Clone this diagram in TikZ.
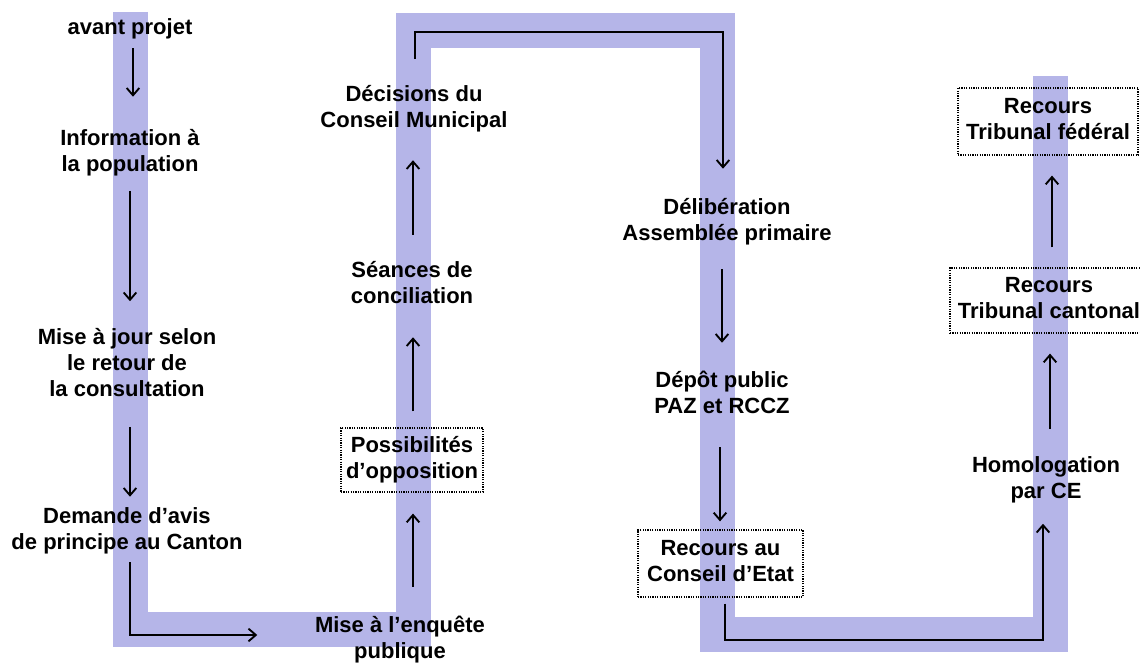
\documentclass[tikz,border=0pt]{standalone}
\usepackage{fontspec}
\setmainfont{Liberation Sans}
\usetikzlibrary{arrows.meta,calc}
\definecolor{bandcol}{RGB}{181,181,232}
\newcommand{\ls}{\strut}
\tikzset{
  lbl/.style={inner sep=0pt, align=center, font=\bfseries\fontsize{16.5}{19.5}\selectfont},
  dbox/.style={lbl, draw, line width=0.9pt, dash pattern=on 0.9pt off 0.9pt},
  arr/.style={line width=1.4pt, -{Straight Barb[length=5.5pt,width=9.5pt]}},
  bandline/.style={draw=bandcol, line width=26.25pt, line join=miter, line cap=butt}
}
\begin{document}
\begin{tikzpicture}[x=0.75pt,y=-0.75pt]
\useasboundingbox (0,0) rectangle (1140,666);
\clip (0,0) rectangle (1140,666);
% band
\draw[bandline] (130,12) -- (130,629.5) -- (413.5,629.5) -- (413.5,31) -- (717.5,31)
  -- (717.5,634.5) -- (1050,634.5) -- (1050,76);
% column coordinates
\coordinate (c1) at (130,0);
\coordinate (c2) at (413,0);
\coordinate (c3) at (722,0);
\coordinate (c4) at (1050,0);
% column 1
\node[lbl] (avant) at (130,29.5) {\ls avant projet};
\node[lbl] (info) at (130,153) {\ls Information à\\\ls la population};
\node[lbl] (maj) at (127,365) {\ls Mise à jour selon\\\ls le retour de\\\ls la consultation};
\node[lbl] (dem) at (127,531.5) {\ls Demande d’avis\\\ls de principe au Canton};
% column 2
\node[lbl] (enq) at (400,640.5) {\ls Mise à l’enquête\\\ls publique};
\node[dbox, minimum width=106.5pt, minimum height=48pt] (poss) at (412,460) {\ls Possibilités\\\ls d’opposition};
\node[lbl] (seance) at (412,285.5) {\ls Séances de\\\ls conciliation};
\node[lbl] (dec) at (414,109) {\ls Décisions du\\\ls Conseil Municipal};
% column 3
\node[lbl] (delib) at (727,222.5) {\ls Délibération\\\ls Assemblée primaire};
\node[lbl] (depot) at (722,395.5) {\ls Dépôt public\\\ls PAZ et RCCZ};
\node[dbox, minimum width=123.75pt, minimum height=50.25pt] (rce) at (720.5,563.5) {\ls Recours au\\\ls Conseil d’Etat};
% column 4
\node[lbl] (homol) at (1046,480) {\ls Homologation\\\ls par CE};
\node[dbox, minimum width=148.5pt, minimum height=48.75pt] (rtc) at (1049,300.5) {\ls Recours\\\ls Tribunal cantonal};
\node[dbox, minimum width=135pt, minimum height=50.25pt] (rtf) at (1048,121.5) {\ls Recours\\\ls Tribunal fédéral};
% connectors column 1
\draw[arr] ($(avant.south -| c1)+(3,5.5)$) -- ($(info.north -| c1)+(3,-30)$);
\draw[arr] ($(info.south -| c1)+(0,11.5)$) -- ($(maj.north -| c1)+(0,-24.5)$);
\draw[arr] ($(maj.south -| c1)+(0,22.5)$) -- ($(dem.north -| c1)+(0,-8.5)$);
\draw[arr] ($(dem.south -| c1)+(0,4.5)$) |- ($(enq.west)+(-57.5,-5.5)$);
% connectors column 2
\draw[arr] ($(enq.north -| c2)+(0,-27.5)$) -- ($(poss.south -| c2)+(0,21)$);
\draw[arr] ($(poss.north -| c2)+(0,-16)$) -- ($(seance.south -| c2)+(0,25.5)$);
\draw[arr] ($(seance.north -| c2)+(0,-24.5)$) -- ($(dec.north -| c2)+(0,77.5)$);
\draw[arr] ($(dec.north -| c2)+(2,-23.5)$) -- ++(0,-27) -| ($(delib.north -| c3)+(1,-27.5)$);
% connectors column 3
\draw[arr] ($(delib.south -| c3)+(0,20.5)$) -- ($(depot.north -| c3)+(0,-26.5)$);
\draw[arr] ($(depot.south -| c3)+(-2,25.5)$) -- ($(rce.north -| c3)+(-2,-8)$);
\draw[arr] ($(rce.south -| c3)+(3,6)$) -- ++(0,36) -| ($(homol.south)+(-3,17.5)$);
% connectors column 4
\draw[arr] ($(homol.north -| c4)+(0,-24.5)$) -- ($(rtc.south -| c4)+(0,20)$);
\draw[arr] ($(rtc.north -| c4)+(2,-20)$) -- ($(rtf.south -| c4)+(2,20)$);
\end{tikzpicture}
\end{document}
